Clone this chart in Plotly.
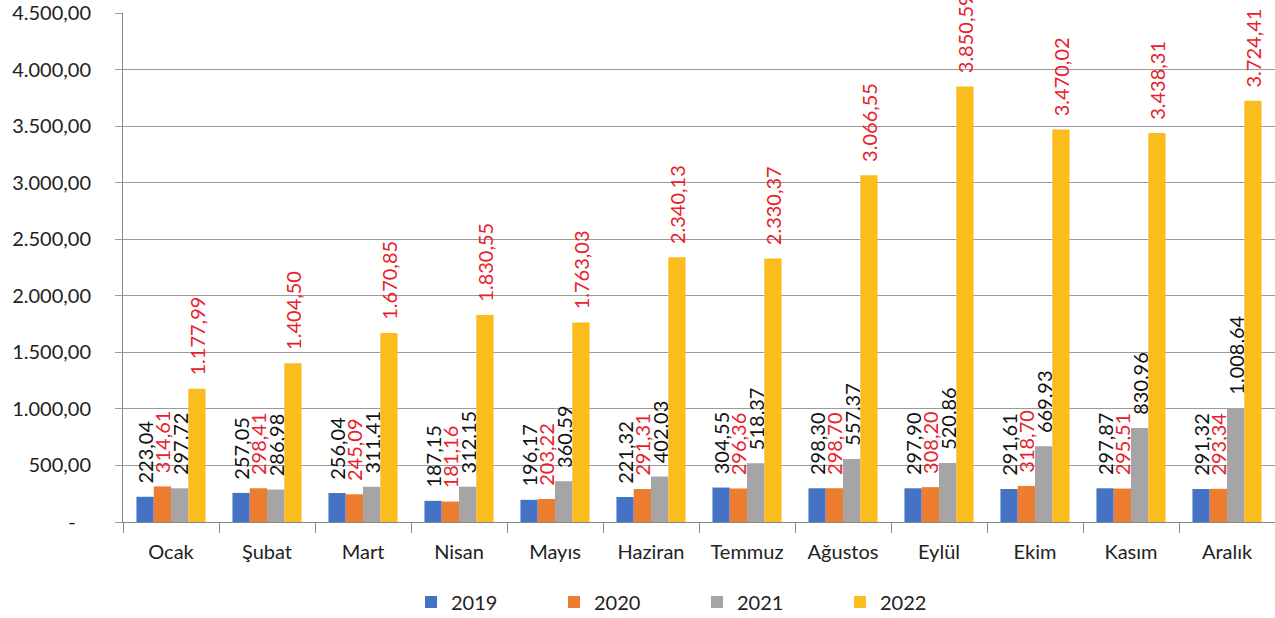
import plotly.graph_objects as go

months = ["Ocak", "Şubat", "Mart", "Nisan", "Mayıs", "Haziran", "Temmuz",
          "Ağustos", "Eylül", "Ekim", "Kasım", "Aralık"]
v2019 = [223.04, 257.05, 256.04, 187.15, 196.17, 221.32, 304.55, 298.30, 297.90, 291.61, 297.87, 291.32]
v2020 = [314.61, 298.41, 245.09, 181.16, 203.22, 291.31, 296.36, 298.70, 308.20, 318.70, 295.51, 293.34]
v2021 = [297.72, 286.98, 311.41, 312.15, 360.59, 402.03, 518.37, 557.37, 520.86, 669.93, 830.96, 1008.64]
v2022 = [1177.99, 1404.50, 1670.85, 1830.55, 1763.03, 2340.13, 2330.37, 3066.55, 3850.59, 3470.02, 3438.31, 3724.41]

series = [
    ("2019", v2019, "#4472C4", "#111111"),
    ("2020", v2020, "#ED7D31", "#E8202A"),
    ("2021", v2021, "#A5A5A5", "#111111"),
    ("2022", v2022, "#FBBC1E", "#E8202A"),
]

ytickvals = [0, 500, 1000, 1500, 2000, 2500, 3000, 3500, 4000, 4500]


def tr_fmt(v):
    if v == 0:
        return "-   "
    s = f"{v:,.2f}"
    return s.replace(",", "X").replace(".", ",").replace("X", ".")


FONT = "Lato"

fig = go.Figure()
for name, vals, col, tcol in series:
    fig.add_trace(go.Bar(
        name=name, x=months, y=vals,
        marker=dict(color=col, line=dict(width=0)),
        texttemplate="  %{y:,.2f}",
        textposition="outside",
        textangle=-90,
        constraintext="none",
        cliponaxis=False,
        textfont=dict(color=tcol, size=20, family=FONT),
    ))

fig.update_layout(
    width=1275, height=618,
    barmode="group",
    bargap=0.28,
    bargroupgap=0,
    separators=",.",
    paper_bgcolor="white",
    plot_bgcolor="white",
    margin=dict(l=123, r=0, t=13, b=96, autoexpand=False),
    font=dict(family=FONT, color="#222222"),
    showlegend=True,
    legend=dict(
        orientation="h",
        x=0.25, xanchor="left",
        y=-0.157, yanchor="middle",
        font=dict(size=20, family=FONT, color="#222222"),
        entrywidth=98,
        traceorder="normal",
    ),
    xaxis=dict(
        automargin=False,
        showline=True, linecolor="#888888", linewidth=1,
        ticks="outside", tickson="boundaries", ticklen=10, tickcolor="#888888",
        tickfont=dict(size=20, family=FONT, color="#222222"),
        ticklabelstandoff=12,
        showgrid=False,
    ),
    yaxis=dict(
        automargin=False,
        range=[0, 4500],
        tickvals=ytickvals,
        ticktext=[tr_fmt(v) for v in ytickvals],
        tickfont=dict(size=20, family=FONT, color="#222222"),
        ticklabeloverflow="allow",
        showgrid=True, gridcolor="#9a9a9a", gridwidth=1,
        showline=True, linecolor="#888888", linewidth=1,
        ticks="outside", ticklen=7, tickcolor="#9a9a9a",
        ticklabelstandoff=20,
        zeroline=False,
    ),
)

fig.write_html(
    "out.html",
    config={"displayModeBar": False},
    post_script="document.body.style.margin='0';document.body.style.overflow='hidden';",
)
